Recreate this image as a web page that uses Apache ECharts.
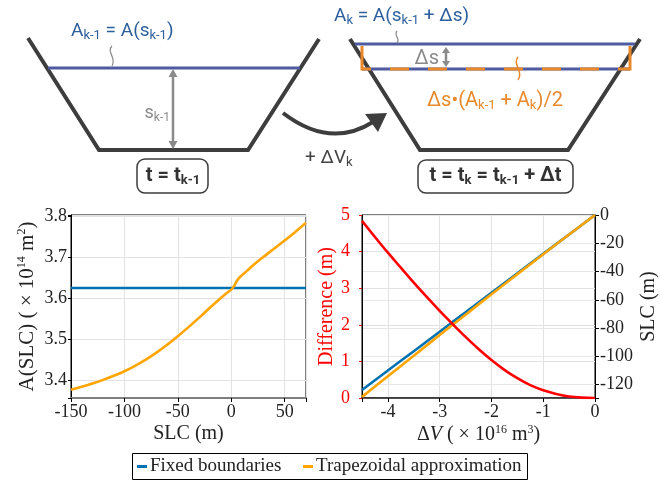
<!DOCTYPE html>
<html><head><meta charset="utf-8">
<script src="https://cdn.jsdelivr.net/npm/echarts@6/dist/echarts.min.js"></script>
<style>html,body{margin:0;padding:0;background:#fff}#c{width:660px;height:481px}</style>
</head><body><div id="c"></div>
<script>
// ---- Data: left panel (area vs SLC) ----
const slcValues = [-150,-140,-130,-120,-110,-100,-90,-80,-70,-60,-50,-40,-30,-20,-10,-5,0,2,4,6,8,10,15,20,30,40,50,60,70];
const areaTrapezoid = [3.378,3.385,3.393,3.402,3.412,3.423,3.436,3.451,3.468,3.487,3.508,3.530,3.553,3.577,3.600,3.611,3.621,3.627,3.636,3.645,3.651,3.656,3.667,3.679,3.700,3.720,3.740,3.761,3.783];
const slcEnds = [-150, 70];
const areaFixed = [3.625, 3.625];
// ---- Data: right panel (vs ΔV) ----
const deltaV = [-4.5,-4.25,-4.0,-3.75,-3.5,-3.25,-3.0,-2.75,-2.5,-2.25,-2.0,-1.75,-1.5,-1.25,-1.0,-0.75,-0.5,-0.25,0];
const slcFixed = [-123.8,-116.9,-110.0,-103.1,-96.3,-89.4,-82.5,-75.6,-68.8,-61.9,-55.0,-48.1,-41.3,-34.4,-27.5,-20.6,-13.8,-6.9,0];
const slcTrapezoid = [-128.6,-121.3,-114.0,-106.7,-99.5,-92.2,-84.9,-77.6,-70.5,-63.2,-56.0,-48.9,-41.8,-34.8,-27.7,-20.7,-13.8,-6.9,0];
const difference = [4.84,4.40,3.97,3.56,3.15,2.76,2.38,2.02,1.67,1.34,1.04,0.77,0.54,0.35,0.21,0.11,0.04,0.01,0];
// ---- Tick labels ----
const leftXTicks = [-150,-100,-50,0,50];
const leftYTicks = [3.4,3.5,3.6,3.7,3.8];
const rightXTicks = [-4,-3,-2,-1,0];
const diffTicks = [0,1,2,3,4,5];
const slcTicks = [-120,-100,-80,-60,-40,-20,0];
const legendNames = ['Fixed boundaries','Trapezoidal approximation'];

const zip = (a,b)=>a.map((v,i)=>[v,b[i]]);
const inList = (list,v)=>list.some(t=>Math.abs(t-v)<1e-6);
const serif = '"Liberation Serif", "DejaVu Serif", serif';
const sans = 'Roboto, "Noto Sans", sans-serif';
const BLUE = '#0072B2', ORANGE = '#FFA500', RED = '#FF0000';
const DARK = '#3d3d3d', GRAYC = '#8a8a8a', LBLUE = '#2d5f9c', LINEBLUE = '#4e5ba0', DORANGE = '#e8892c';

const supRich = {sup:{fontSize:12, fontFamily:serif, padding:[0,0,10,0], color:'#222'}};
const axisName = {fontSize:20, fontFamily:serif, color:'#222', rich:supRich};

function subRich(size, color, bold){
  return {
    a:{fontSize:size, fontFamily:sans, fill:color, fontWeight:bold?'bold':'normal'},
    s:{fontSize:Math.round(size*0.66), fontFamily:sans, fill:color, fontWeight:bold?'bold':'normal', padding:[9,0,0,0]}
  };
}
function txt(x,y,text,rich,align){
  return {type:'text', x:x, y:y, z:10, style:{text:text, rich:rich, align:align||'left', verticalAlign:'middle'}};
}
function ln(x1,y1,x2,y2,color,w,extra){
  return {type:'line', shape:{x1,y1,x2,y2}, z:5, style:Object.assign({stroke:color, lineWidth:w}, extra||{})};
}
function poly(points,color){ return {type:'polygon', shape:{points}, z:6, style:{fill:color}}; }
const serifRich = {t:{fontSize:19, fontFamily:serif, fill:'#222'}};

const graphics = [
  // left trapezoid
  {type:'polyline', shape:{points:[[28,38],[99,150],[248,150],[319,39]]}, z:4, style:{stroke:DARK, lineWidth:4, fill:null}},
  ln(48,68,300,68,LINEBLUE,3),
  ln(173,74,173,144,GRAYC,2.5),
  poly([[173,69],[168.5,77],[177.5,77]],GRAYC),
  poly([[173,149],[168.5,141],[177.5,141]],GRAYC),
  txt(170,113,'{a|s}{s|k-1}',subRich(18,GRAYC),'right'),
  txt(71,31,'{a|A}{s|k-1}{a| = A(s}{s|k-1}{a|)}',subRich(19,LBLUE)),
  {type:'bezierCurve', shape:{x1:112,y1:46,cpx1:106,cpy1:52,cpx2:117,cpy2:58,x2:112,y2:66}, z:5, style:{stroke:'#888', lineWidth:1.2, fill:null}},
  {type:'rect', shape:{x:137,y:159,width:71,height:34,r:8}, z:4, style:{fill:'#fff', stroke:DARK, lineWidth:1.5}},
  txt(173,176,'{a|t = t}{s|k-1}',subRich(20,'#333',true),'center'),
  // curved arrow
  {type:'bezierCurve', shape:{x1:283,y1:113,cpx1:330,cpy1:149,x2:373,y2:122}, z:4, style:{stroke:DARK, lineWidth:4, fill:null}},
  poly([[387,113],[365,114],[378,132]],DARK),
  txt(305,158,'{a|+ ΔV}{s|k}',subRich(19,'#444')),
  // right trapezoid
  {type:'polyline', shape:{points:[[350,39],[420,150],[568,150],[640,39]]}, z:4, style:{stroke:DARK, lineWidth:4, fill:null}},
  ln(355,44,635,44,LINEBLUE,3),
  ln(362,69,630,69,LINEBLUE,3),
  ln(362,69,630,69,DORANGE,3,{lineDash:[19,19], lineDashOffset:10}),
  ln(362,46,362,70.5,DORANGE,3),
  ln(630,46,630,70.5,DORANGE,3),
  ln(446,51,446,63,GRAYC,2.5),
  poly([[446,47],[442,53],[450,53]],GRAYC),
  poly([[446,67],[442,61],[450,61]],GRAYC),
  txt(439,59,'{a|Δs}',subRich(20,GRAYC),'right'),
  {type:'bezierCurve', shape:{x1:397,y1:31,cpx1:393,cpy1:35,cpx2:401,cpy2:39,x2:397,y2:43}, z:5, style:{stroke:'#888', lineWidth:1.2, fill:null}},
  {type:'bezierCurve', shape:{x1:518,y1:57,cpx1:512,cpy1:64,cpx2:524,cpy2:72,x2:518,y2:80}, z:7, style:{stroke:DORANGE, lineWidth:1.5, fill:null}},
  txt(334,16,'{a|A}{s|k}{a| = A(s}{s|k-1}{a| + Δs)}',subRich(19,LBLUE)),
  txt(427,101,'{a|Δs•(A}{s|k-1}{a| + A}{s|k}{a|)/2}',subRich(20,DORANGE)),
  {type:'rect', shape:{x:418,y:160,width:155,height:33,r:8}, z:4, style:{fill:'#fff', stroke:DARK, lineWidth:1.5}},
  txt(495.5,176,'{a|t = t}{s|k}{a| = t}{s|k-1}{a| + Δt}',subRich(20,'#333',true),'center'),
  // legend box
  {type:'rect', shape:{x:132.5,y:453.5,width:395,height:26}, z:4, style:{fill:'#fff', stroke:'#000', lineWidth:1}},
  ln(137,466.5,147,466.5,BLUE,3),
  txt(150,466,'{t|'+legendNames[0]+'}',serifRich),
  ln(303,466.5,313,466.5,ORANGE,3),
  txt(316,466,'{t|'+legendNames[1]+'}',serifRich)
];

const labelBase = {fontSize:18, fontFamily:serif, color:'#222'};
const chart = echarts.init(document.getElementById('c'), null, {renderer:'canvas'});
chart.setOption({
  animation:false,
  textStyle:{fontFamily:serif},
  graphic: graphics,
  legend:{show:false, data:legendNames},
  grid:[
    {left:71, top:215, width:235, height:183, show:true, borderColor:'#000', borderWidth:1},
    {left:362, top:215, width:236, height:183, show:true, borderColor:'#000', borderWidth:1}
  ],
  xAxis:[
    {gridIndex:0, type:'value', min:-150, max:70, interval:50,
     axisLine:{onZero:false, lineStyle:{color:'#7f7f7f', width:2}},
     axisTick:{length:4, lineStyle:{color:'#000'}},
     axisLabel:Object.assign({margin:5, formatter:v=>inList(leftXTicks,v)?String(v):''}, labelBase),
     splitLine:{lineStyle:{color:'#e2e2e2'}},
     name:'SLC (m)', nameLocation:'middle', nameGap:26, nameTextStyle:axisName},
    {gridIndex:1, type:'value', min:-4.5, max:0, splitNumber:5,
     axisLine:{onZero:false, lineStyle:{color:'#222', width:1.5}},
     axisTick:{length:4, lineStyle:{color:'#000'}},
     axisLabel:Object.assign({margin:5, formatter:v=>inList(rightXTicks,v)?String(Math.round(v)):''}, labelBase),
     splitLine:{lineStyle:{color:'#e2e2e2'}},
     name:'{d|Δ}{i|V} ( × 10{sup|16} m{sup|3})', nameLocation:'middle', nameGap:26,
     nameTextStyle:Object.assign({}, axisName, {rich:Object.assign({d:{fontSize:20,fontFamily:serif,color:'#222'}, i:{fontSize:20,fontFamily:serif,fontStyle:'italic',color:'#222'}}, supRich)})}
  ],
  yAxis:[
    {gridIndex:0, type:'value', min:3.358, max:3.802, splitNumber:5,
     axisLine:{show:true, onZero:false, lineStyle:{color:'#000'}},
     axisTick:{length:3, lineStyle:{color:'#000'}},
     axisLabel:Object.assign({margin:4, formatter:v=>inList(leftYTicks,v)?v.toFixed(1):''}, labelBase),
     splitLine:{lineStyle:{color:'#e2e2e2'}},
     name:'A(SLC) ( × 10{sup|14} m{sup|2})', nameLocation:'middle', nameRotate:90, nameGap:33,
     nameTextStyle:Object.assign({}, axisName, {fontSize:21})},
    {gridIndex:1, type:'value', min:0, max:5, interval:1, position:'left',
     axisLine:{show:true, onZero:false, lineStyle:{color:'#000'}},
     axisTick:{length:3, lineStyle:{color:RED}},
     axisLabel:Object.assign({}, labelBase, {color:RED, margin:12, formatter:v=>inList(diffTicks,v)?String(Math.round(v)):''}),
     splitLine:{lineStyle:{color:'#e2e2e2'}},
     name:'Difference (m)', nameLocation:'middle', nameRotate:90, nameGap:24, nameTextStyle:Object.assign({}, axisName, {color:RED})},
    {gridIndex:1, type:'value', min:-129.4, max:0, splitNumber:7, position:'right',
     axisLine:{show:true, onZero:false, lineStyle:{color:'#000'}},
     axisTick:{length:4, lineStyle:{color:'#000'}},
     axisLabel:Object.assign({margin:5, formatter:v=>inList(slcTicks,v)?String(Math.round(v)):''}, labelBase),
     splitLine:{lineStyle:{color:'#e8e8e8'}},
     name:'SLC (m)', nameLocation:'middle', nameRotate:90, nameGap:44, nameTextStyle:axisName}
  ],
  series:[
    {name:legendNames[0], type:'line', xAxisIndex:0, yAxisIndex:0, data:zip(slcEnds, areaFixed), showSymbol:false, symbol:'none', lineStyle:{color:BLUE, width:2.6}, itemStyle:{color:BLUE}},
    {name:legendNames[1], type:'line', xAxisIndex:0, yAxisIndex:0, data:zip(slcValues, areaTrapezoid), smooth:0.3, showSymbol:false, symbol:'none', lineStyle:{color:ORANGE, width:2.6}, itemStyle:{color:ORANGE}},
    {name:legendNames[0], type:'line', xAxisIndex:1, yAxisIndex:2, data:zip(deltaV, slcFixed), showSymbol:false, symbol:'none', lineStyle:{color:BLUE, width:2.6}, itemStyle:{color:BLUE}},
    {name:legendNames[1], type:'line', xAxisIndex:1, yAxisIndex:2, data:zip(deltaV, slcTrapezoid), showSymbol:false, symbol:'none', lineStyle:{color:ORANGE, width:2.6}, itemStyle:{color:ORANGE}},
    {name:'Difference', type:'line', xAxisIndex:1, yAxisIndex:1, data:zip(deltaV, difference), smooth:0.3, showSymbol:false, symbol:'none', lineStyle:{color:RED, width:2.6}, itemStyle:{color:RED}}
  ]
});
</script></body></html>
